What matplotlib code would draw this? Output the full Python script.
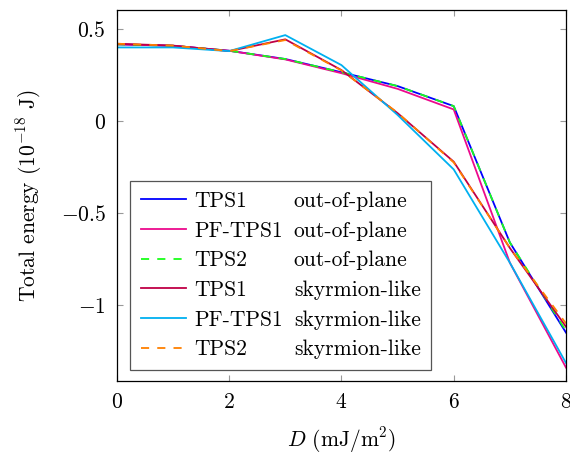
import matplotlib
matplotlib.use("Agg")
import matplotlib.pyplot as plt
from matplotlib.lines import Line2D

plt.rcParams["font.family"] = "cmr10"
plt.rcParams["mathtext.fontset"] = "cm"
plt.rcParams["axes.formatter.use_mathtext"] = True
plt.rcParams["font.size"] = 15.5

D = [0, 1, 2, 3, 4, 5, 6, 7, 8]

tps1_oop = [0.417, 0.409, 0.382, 0.337, 0.265, 0.19, 0.081, -0.66, -1.15]
pf_tps1_oop = [0.417, 0.409, 0.382, 0.335, 0.26, 0.175, 0.063, -0.77, -1.34]
tps2_oop = [0.417, 0.409, 0.382, 0.337, 0.265, 0.19, 0.081, -0.66, -1.14]
tps1_sky = [0.42, 0.41, 0.38, 0.444, 0.277, 0.043, -0.221, -0.69, -1.118]
pf_tps1_sky = [0.40, 0.40, 0.38, 0.467, 0.304, 0.033, -0.263, -0.77, -1.315]
tps2_sky = [0.42, 0.41, 0.38, 0.44, 0.275, 0.045, -0.225, -0.69, -1.10]

methods = ["TPS1", "PF-TPS1", "TPS2", "TPS1", "PF-TPS1", "TPS2"]
configs = ["out-of-plane"] * 3 + ["skyrmion-like"] * 3

series = [tps1_oop, pf_tps1_oop, tps2_oop, tps1_sky, pf_tps1_sky, tps2_sky]
colors = ["#0000ff", "#ec0a8c", "#19ff19", "#bf0045", "#00b0f0", "#ff8000"]
styles = ["-", "-", (0, (4.5, 4.5)), "-", "-", (0, (4.5, 4.5))]

fig = plt.figure(figsize=(5.7, 4.58), dpi=100)
ax = fig.add_axes([0.205, 0.168, 0.788, 0.81])

lines = []
for ys, c, ls in zip(series, colors, styles):
    (ln,) = ax.plot(D, ys, color=c, linestyle=ls, linewidth=1.3)
    lines.append(ln)

ax.set_xlim(0, 8)
ax.set_ylim(-1.413, 0.603)
ax.set_xticks([0, 2, 4, 6, 8])
ax.set_yticks([-1, -0.5, 0, 0.5])
ax.set_yticklabels(["$-1$", "$-0.5$", "$0$", "$0.5$"])
ax.set_xticklabels(["$0$", "$2$", "$4$", "$6$", "$8$"])
ax.tick_params(direction="in", top=True, right=True, length=4, color="#999999",
               labelsize=15.5, pad=8)
for sp in ax.spines.values():
    sp.set_linewidth(0.9)

ax.set_xlabel("$D$ (mJ/m$^2$)", fontsize=15.5, labelpad=10)
ax.set_ylabel("Total energy (10$^{-18}$ J)", fontsize=15.5, labelpad=12)

blank = [Line2D([], [], linestyle="none") for _ in configs]
hl, htp = 2.1, 0.4
leg = ax.legend(lines + blank, methods + configs, ncol=2,
                loc="lower left", bbox_to_anchor=(0.029, 0.03), borderaxespad=0,
                handlelength=hl, handletextpad=htp, columnspacing=-(hl + htp) + 0.5,
                fancybox=False, edgecolor="#555555", framealpha=1,
                labelspacing=0.47, borderpad=0.5, fontsize=15.5)
leg.get_frame().set_linewidth(0.9)

fig.savefig("out.png", dpi=100)
